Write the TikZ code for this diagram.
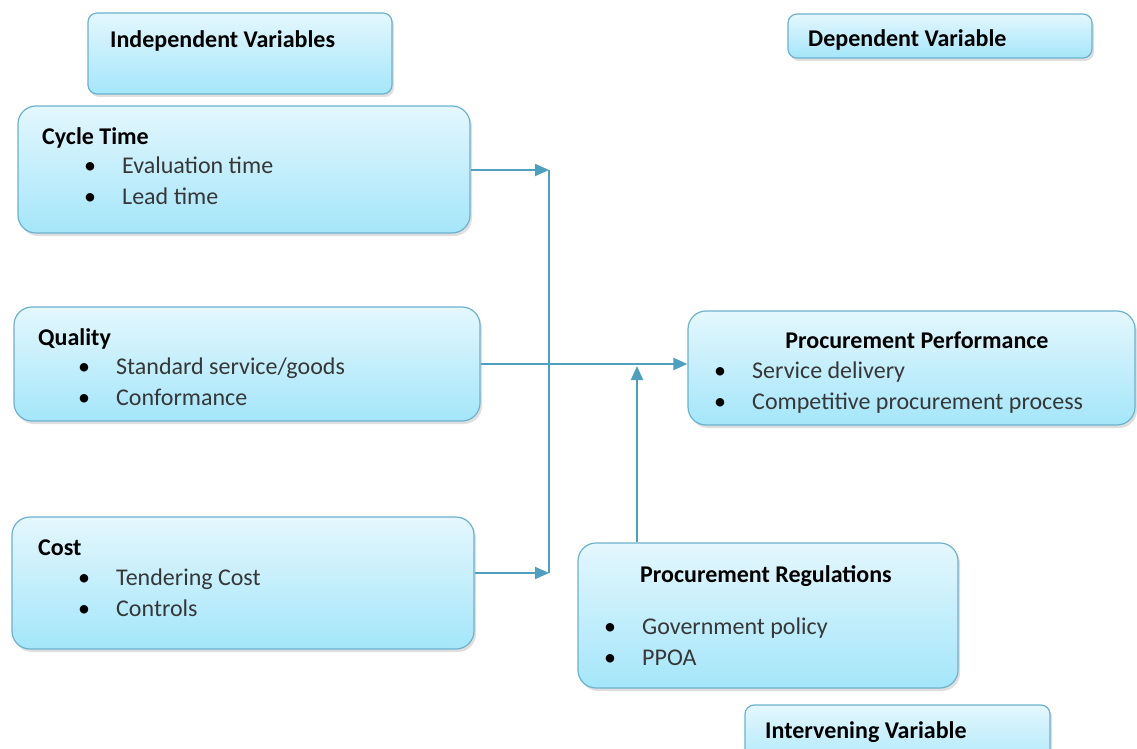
\documentclass[tikz,border=0pt]{standalone}
\usepackage{fontspec}
\setmainfont{Carlito}
\usepackage{tikz}
\usetikzlibrary{positioning, arrows.meta, shadows}

\definecolor{boxtop}{RGB}{228,247,253}
\definecolor{boxbot}{RGB}{164,230,250}
\definecolor{boxline}{RGB}{108,178,204}
\definecolor{linkblue}{RGB}{78,160,190}
\definecolor{itemgray}{RGB}{55,55,55}

% two bullet lines, bullet column of fixed width
\newcommand{\twoitems}[2]{%
  \begin{tabular}[t]{@{}p{38pt}@{}l@{}}
    \textcolor{black}{\textbullet} & #1\\
    \textcolor{black}{\textbullet} & #2
  \end{tabular}}

\begin{document}
\begin{tikzpicture}[
  x=1pt, y=-1pt,
  box/.style={rectangle, draw=boxline, line width=1.2pt, rounded corners=18pt,
              top color=boxtop, bottom color=boxbot, inner sep=0pt,
              drop shadow={opacity=0.25, shadow xshift=2pt, shadow yshift=-3pt}},
  tag/.style={box, rounded corners=9pt},
  head/.style={anchor=base west, inner sep=0pt,
               font=\fontsize{24}{31}\selectfont\bfseries},
  items/.style={anchor=base west, inner sep=0pt, text=itemgray,
                font=\fontsize{24}{31}\selectfont},
  wire/.style={draw=linkblue, line width=2pt},
  link/.style={wire, -{Triangle[length=14pt, width=12pt]}},
]
\useasboundingbox (0,0) rectangle (1137,749);

% variable type labels
\node[tag, minimum width=304pt, minimum height=81pt] (indep) at (240,53.5) {};
\node[head] (indeptxt) at (110,48) {Independent Variables};
\node[tag, minimum width=304pt, minimum height=44pt] (dep) at (940,36) {};
\node[head] (deptxt) at (808,47) {Dependent Variable};
\node[tag, minimum width=305pt, minimum height=70pt] (interv) at (897.5,740) {};
\node[head] (intervtxt) at (765,738) {Intervening Variable};

% independent variables
\node[box, minimum width=452pt, minimum height=127pt] (cycle) at (244,169.5) {};
\node[head] (cyclehd) at (42,144) {Cycle Time};
\node[items] (cycleit) at (84,173) {\twoitems{Evaluation time}{Lead time}};

\node[box, minimum width=466pt, minimum height=114pt] (quality) at (247,364) {};
\node[head] (qualityhd) at (38,345) {Quality};
\node[items] (qualityit) at (78,374) {\twoitems{Standard service/goods}{Conformance}};

\node[box, minimum width=462pt, minimum height=132pt] (cost) at (243,583) {};
\node[head] (costhd) at (38,555) {Cost};
\node[items] (costit) at (78,585) {\twoitems{Tendering Cost}{Controls}};

% dependent variable
\node[box, minimum width=447pt, minimum height=114pt] (perf) at (911.5,368) {};
\node[head, anchor=base] (perfhd) at (917,348) {Procurement Performance};
\node[items] (perfit) at (714,378) {\twoitems{Service delivery}{Competitive procurement process}};

% intervening variable
\node[box, minimum width=380pt, minimum height=145pt] (reg) at (768,615.5) {};
\node[head] (reghd) at (640,582) {Procurement Regulations};
\node[items] (regit) at (604,634) {\twoitems{Government policy}{PPOA}};

% connectors
\coordinate (jtop) at (549,170);
\coordinate (jbot) at (549,573);
\coordinate (meet) at (637,366);

\draw[wire] (jtop) -- (jbot);
\draw[link] (cycle.east |- jtop) -- (jtop);
\draw[link] (cost.east |- jbot) -- (jbot);
\draw[link] (quality.east) -- (quality.east -| perf.west);
\draw[link] (reg.north -| meet) -- (meet);
\end{tikzpicture}
\end{document}
